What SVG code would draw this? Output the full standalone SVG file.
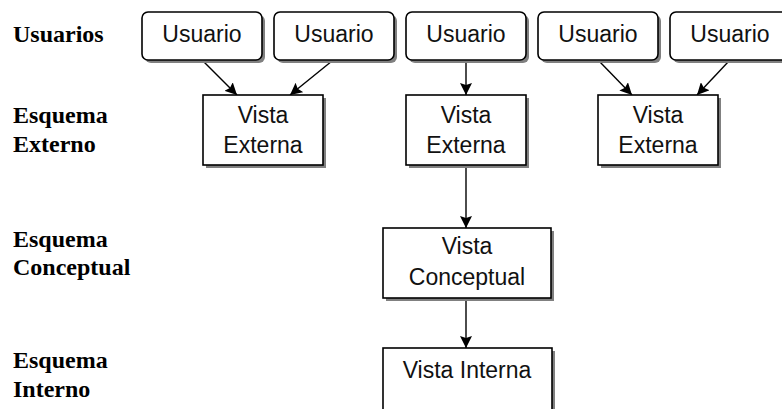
<svg xmlns="http://www.w3.org/2000/svg" width="782" height="409" viewBox="0 0 782 409">
  <defs>
    <style>
      .box { fill: #ffffff; stroke: #000000; stroke-width: 1.6; }
      .shadow { fill: #808080; stroke: none; }
      .label { font-family: "Liberation Sans", Arial, sans-serif; font-size: 23px; fill: #111111; text-anchor: middle; }
      .level { font-family: "Liberation Serif", "Times New Roman", serif; font-size: 24px; font-weight: bold; fill: #000000; }
      .edge { stroke: #000000; stroke-width: 1.4; fill: none; marker-end: url(#head); }
    </style>
    <marker id="head" viewBox="0 0 12 12" refX="12" refY="6" markerWidth="12" markerHeight="12" markerUnits="userSpaceOnUse" orient="auto">
      <path d="M0,0 L12,6 L0,12 L2,6 Z" fill="#000000"/>
    </marker>
  </defs>

  <rect width="782" height="409" fill="#ffffff"/>

  <!-- level captions -->
  <g id="levels">
    <text class="level" x="13" y="42">Usuarios</text>
    <text class="level" x="13" y="123">Esquema</text>
    <text class="level" x="13" y="152">Externo</text>
    <text class="level" x="13" y="247">Esquema</text>
    <text class="level" x="13" y="275">Conceptual</text>
    <text class="level" x="13" y="368">Esquema</text>
    <text class="level" x="13" y="397">Interno</text>
  </g>

  <!-- connectors -->
  <g id="connectors">
    <line class="edge" x1="203" y1="61" x2="237" y2="95"/>
    <line class="edge" x1="332" y1="61" x2="290" y2="95"/>
    <line class="edge" x1="466" y1="61" x2="466" y2="95"/>
    <line class="edge" x1="599" y1="61" x2="632" y2="95"/>
    <line class="edge" x1="729" y1="61" x2="697" y2="95"/>
    <line class="edge" x1="466" y1="166" x2="466" y2="228"/>
    <line class="edge" x1="466" y1="298" x2="466" y2="348"/>
  </g>

  <!-- users -->
  <g id="usuario-1">
    <rect class="shadow" x="145" y="15" width="120" height="48" rx="6"/>
    <rect class="box" x="142" y="12" width="120" height="48" rx="6"/>
    <text class="label" x="202" y="42">Usuario</text>
  </g>
  <g id="usuario-2">
    <rect class="shadow" x="277" y="15" width="120" height="48" rx="6"/>
    <rect class="box" x="274" y="12" width="120" height="48" rx="6"/>
    <text class="label" x="334" y="42">Usuario</text>
  </g>
  <g id="usuario-3">
    <rect class="shadow" x="409" y="15" width="120" height="48" rx="6"/>
    <rect class="box" x="406" y="12" width="120" height="48" rx="6"/>
    <text class="label" x="466" y="42">Usuario</text>
  </g>
  <g id="usuario-4">
    <rect class="shadow" x="541" y="15" width="120" height="48" rx="6"/>
    <rect class="box" x="538" y="12" width="120" height="48" rx="6"/>
    <text class="label" x="598" y="42">Usuario</text>
  </g>
  <g id="usuario-5">
    <rect class="shadow" x="673" y="15" width="120" height="48" rx="6"/>
    <rect class="box" x="670" y="12" width="120" height="48" rx="6"/>
    <text class="label" x="730" y="42">Usuario</text>
  </g>

  <!-- external views -->
  <g id="vista-externa-1">
    <rect class="shadow" x="206" y="98" width="120" height="70"/>
    <rect class="box" x="203" y="95" width="120" height="70"/>
    <text class="label" x="263" y="123">Vista</text>
    <text class="label" x="263" y="153">Externa</text>
  </g>
  <g id="vista-externa-2">
    <rect class="shadow" x="409" y="98" width="120" height="70"/>
    <rect class="box" x="406" y="95" width="120" height="70"/>
    <text class="label" x="466" y="123">Vista</text>
    <text class="label" x="466" y="153">Externa</text>
  </g>
  <g id="vista-externa-3">
    <rect class="shadow" x="601" y="98" width="120" height="70"/>
    <rect class="box" x="598" y="95" width="120" height="70"/>
    <text class="label" x="658" y="123">Vista</text>
    <text class="label" x="658" y="153">Externa</text>
  </g>

  <!-- conceptual view -->
  <g id="vista-conceptual">
    <rect class="shadow" x="386" y="231" width="168" height="70"/>
    <rect class="box" x="383" y="228" width="168" height="70"/>
    <text class="label" x="467" y="254">Vista</text>
    <text class="label" x="467" y="285">Conceptual</text>
  </g>

  <!-- internal view -->
  <g id="vista-interna">
    <rect class="shadow" x="386" y="351" width="169" height="70"/>
    <rect class="box" x="383" y="348" width="169" height="70"/>
    <text class="label" x="467" y="378">Vista Interna</text>
  </g>
</svg>
